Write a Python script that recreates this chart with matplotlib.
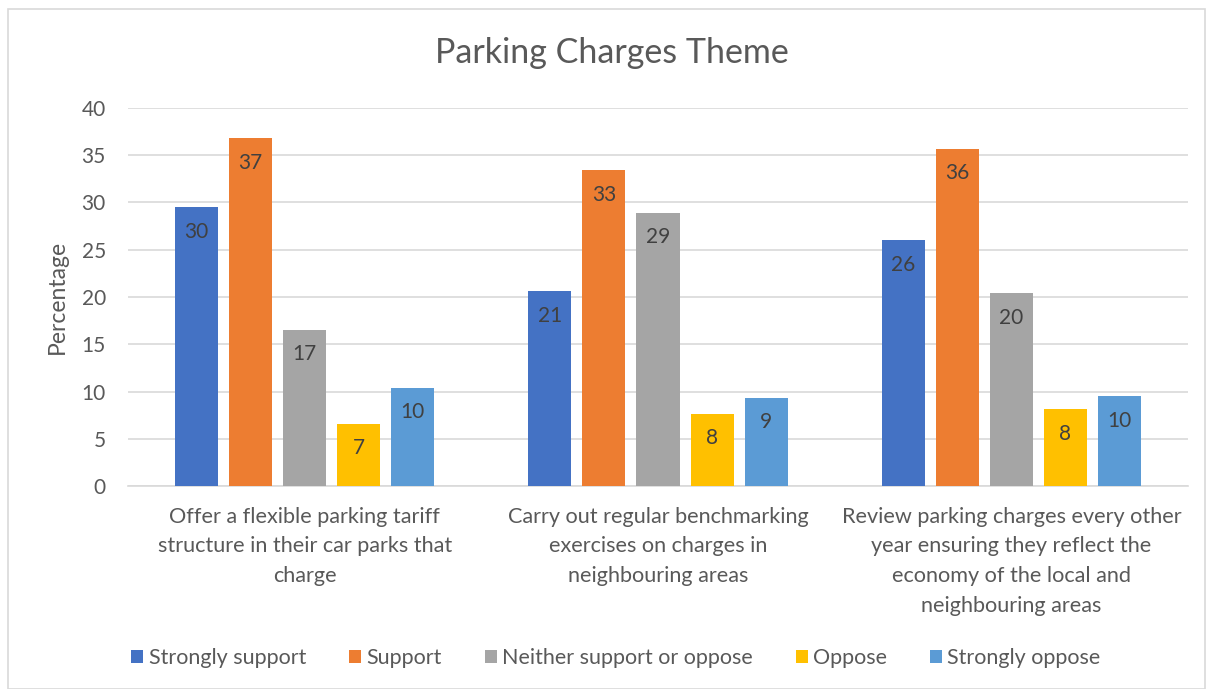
import matplotlib
matplotlib.use("Agg")
import matplotlib.pyplot as plt
from matplotlib.patches import Rectangle
import numpy as np

plt.rcParams['font.family'] = ['Lato', 'DejaVu Sans']

categories = [
    "Offer a flexible parking tariff\nstructure in their car parks that\ncharge",
    "Carry out regular benchmarking\nexercises on charges in\nneighbouring areas",
    "Review parking charges every other\nyear ensuring they reflect the\neconomy of the local and\nneighbouring areas",
]
series_names = ["Strongly support", "Support", "Neither support or oppose", "Oppose", "Strongly oppose"]
strongly_support = [29.5, 20.6, 26.0]
support = [36.8, 33.4, 35.7]
neither = [16.5, 28.9, 20.4]
oppose = [6.6, 7.6, 8.1]
strongly_oppose = [10.4, 9.3, 9.5]
label_values = [[30, 21, 26], [37, 33, 36], [17, 29, 20], [7, 8, 8], [10, 9, 10]]
series = [strongly_support, support, neither, oppose, strongly_oppose]
colors = ["#4472C4", "#ED7D31", "#A5A5A5", "#FFC000", "#5B9BD5"]

fig = plt.figure(figsize=(12.13, 6.89), dpi=100)
fig.patches.append(Rectangle((8/1213, 0), 1197/1213, 1 - 9/689, transform=fig.transFigure,
                             fill=False, edgecolor="#D9D9D9", linewidth=1.2))
ax = fig.add_axes([128/1213, 1 - 486/689, 1060/1213, 378/689])

x = np.arange(len(categories))
width = 0.122
step = 0.153
text_color = "#595959"
for i, (vals, col) in enumerate(zip(series, colors)):
    pos = x + (i - 2) * step
    bars = ax.bar(pos, vals, width=width, color=col, label=series_names[i], zorder=3)
    for b, lv in zip(bars, label_values[i]):
        ax.annotate(str(lv), (b.get_x() + b.get_width()/2, b.get_height()),
                    xytext=(0, -17.5), textcoords="offset points", ha="center", va="center",
                    fontsize=15, color="#404040", zorder=4)

ax.set_xlim(-0.5, 2.5)
ax.set_ylim(0, 40)
ax.set_yticks(range(0, 41, 5))
ax.yaxis.grid(True, color="#D9D9D9", linewidth=1.2, zorder=0)
ax.set_axisbelow(True)
for s in ["top", "right", "left"]:
    ax.spines[s].set_visible(False)
ax.spines["bottom"].set_color("#D9D9D9")
ax.spines["bottom"].set_linewidth(1.2)
ax.tick_params(axis="both", length=0, colors=text_color, labelsize=15)
ax.tick_params(axis="y", pad=16)
ax.set_xticks(x)
ax.set_xticklabels(categories, fontsize=15.6, color=text_color, linespacing=1.6)
ax.tick_params(axis="x", pad=15)
ax.set_ylabel("Percentage", fontsize=16.5, color=text_color, labelpad=10)

fig.text(612/1213, 1 - 53/689, "Parking Charges Theme", ha="center", va="center",
         fontsize=24.5, color=text_color)

leg = fig.legend(loc="center", bbox_to_anchor=(616/1213, 1 - 658/689), ncol=5, frameon=False,
                 fontsize=15.5, handlelength=0.55, handleheight=0.55, handletextpad=0.25,
                 columnspacing=2.0, labelcolor=text_color)

fig.savefig("out.png", dpi=100)
